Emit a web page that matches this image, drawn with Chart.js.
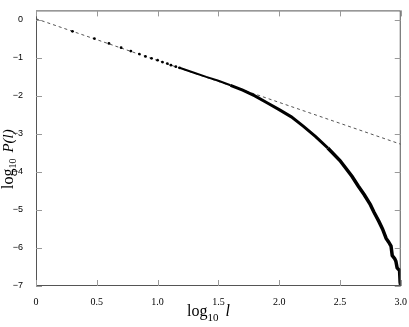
<!DOCTYPE html>
<html>
<head>
<meta charset="utf-8">
<script src="https://cdn.jsdelivr.net/npm/chart.js@4/dist/chart.umd.min.js"></script>
<style>
  html, body { margin: 0; padding: 0; background: #fff; }
  #wrap { width: 409px; height: 327px; }
</style>
</head>
<body>
<div id="wrap"><canvas id="chart"></canvas></div>
<script>
const xTicks = [0, 0.5, 1, 1.5, 2, 2.5, 3];
const yTicks = [-7, -6, -5, -4, -3, -2, -1, 0];

// fitted power law (dashed)
const fitX = [0, 3];
const fitY = [0.03, -3.27];

// sparse points at small l
const dotX = [0, 0.30, 0.48, 0.60, 0.70, 0.78, 0.85, 0.90, 0.95, 1.0, 1.04, 1.08, 1.11, 1.15, 1.18];
const dotY = [0.0, -0.30, -0.49, -0.62, -0.73, -0.82, -0.90, -0.96, -1.01, -1.06, -1.11, -1.15, -1.19, -1.23, -1.26];

// dense part of the distribution
const curveX = [1.18, 1.3, 1.4, 1.5, 1.6, 1.7, 1.8, 1.9, 2.0, 2.1, 2.2, 2.3, 2.4, 2.5, 2.6, 2.65, 2.7, 2.75, 2.78, 2.82, 2.85, 2.88, 2.9, 2.92, 2.93, 2.95, 2.96, 2.97, 2.98, 2.99, 2.995, 3.0];
const curveY = [-1.26, -1.39, -1.50, -1.60, -1.72, -1.85, -2.00, -2.18, -2.36, -2.55, -2.80, -3.07, -3.37, -3.70, -4.12, -4.37, -4.60, -4.86, -5.06, -5.30, -5.50, -5.75, -5.84, -5.95, -6.20, -6.28, -6.35, -6.52, -6.56, -6.58, -6.90, -7.0];

const pts = (xs, ys) => xs.map((v, i) => ({ x: v, y: ys[i] }));

const frame = {
  id: "frame",
  afterDraw(chart) {
    const { ctx, chartArea: a, scales: { x, y } } = chart;
    ctx.save();
    ctx.strokeStyle = "#555";
    ctx.lineWidth = 1;
    ctx.strokeRect(a.left + 0.5, a.top + 0.5, a.width - 1, a.height - 1);

    ctx.strokeStyle = "#999";
    ctx.beginPath();
    xTicks.forEach(v => {
      const px = Math.round(x.getPixelForValue(v)) + 0.5;
      ctx.moveTo(px, a.bottom); ctx.lineTo(px, a.bottom - 6);
      ctx.moveTo(px, a.top); ctx.lineTo(px, a.top + 6);
    });
    yTicks.forEach(v => {
      const py = Math.round(y.getPixelForValue(v)) + 0.5;
      ctx.moveTo(a.left, py); ctx.lineTo(a.left + 6, py);
      ctx.moveTo(a.right, py); ctx.lineTo(a.right - 6, py);
    });
    ctx.stroke();

    // x title: log10 l
    ctx.fillStyle = "#000";
    ctx.textBaseline = "alphabetic";
    ctx.font = "16px 'Liberation Serif'";
    let tx = 187, ty = 316;
    ctx.fillText("log", tx, ty);
    tx += ctx.measureText("log").width;
    ctx.font = "11px 'Liberation Serif'";
    ctx.fillText("10", tx, ty + 5);
    tx += ctx.measureText("10").width + 7;
    ctx.font = "italic 16px 'Liberation Serif'";
    ctx.fillText("l", tx, ty);

    // y title: log10 P(l)
    ctx.translate(13, 189);
    ctx.rotate(-Math.PI / 2);
    tx = 0; ty = 0;
    ctx.font = "16px 'Liberation Serif'";
    ctx.fillText("log", tx, ty);
    tx += ctx.measureText("log").width;
    ctx.font = "10px 'Liberation Serif'";
    ctx.fillText("10", tx, ty + 3);
    tx += ctx.measureText("10").width + 6;
    ctx.font = "italic 15px 'Liberation Serif'";
    ctx.fillText("P(l)", tx, ty);
    ctx.restore();
  }
};

new Chart(document.getElementById("chart"), {
  type: "scatter",
  data: {
    datasets: [
      {
        data: pts(curveX, curveY),
        showLine: true,
        borderColor: "#000",
        borderWidth: 3,
        pointRadius: 0,
        segment: {
          borderWidth: c => (c.p0.parsed.x < 1.6 ? 2 : c.p0.parsed.x < 2.4 ? 3 : 3.5)
        }
      },
      {
        data: pts(dotX, dotY),
        backgroundColor: "#000",
        borderWidth: 0,
        pointRadius: 1.4
      },
      {
        data: pts(fitX, fitY),
        showLine: true,
        borderColor: "#555",
        borderWidth: 1,
        borderDash: [3, 3],
        pointRadius: 0
      }
    ]
  },
  options: {
    responsive: true,
    maintainAspectRatio: false,
    animation: false,
    layout: { padding: { top: 2, right: 8, left: 0, bottom: 0 } },
    plugins: {
      legend: { display: false },
      tooltip: { enabled: false }
    },
    scales: {
      x: {
        type: "linear",
        min: 0,
        max: 3,
        afterFit: s => { s.height = 41; },
        afterBuildTicks: s => { s.ticks = xTicks.map(v => ({ value: v })); },
        grid: { display: false },
        border: { display: false },
        ticks: {
          padding: 2,
          color: "#000",
          font: { family: "'Liberation Serif'", size: 10 },
          maxRotation: 0
        }
      },
      y: {
        type: "linear",
        min: -7,
        max: 0.25,
        afterFit: s => { s.width = 36; },
        afterBuildTicks: s => { s.ticks = yTicks.map(v => ({ value: v })); },
        grid: { display: false },
        border: { display: false },
        ticks: {
          padding: 5,
          color: "#000",
          font: { family: "'Liberation Sans'", size: 9 },
          callback: v => String(v).replace("-", "\u2212")
        }
      }
    }
  },
  plugins: [frame]
});
</script>
</body>
</html>
